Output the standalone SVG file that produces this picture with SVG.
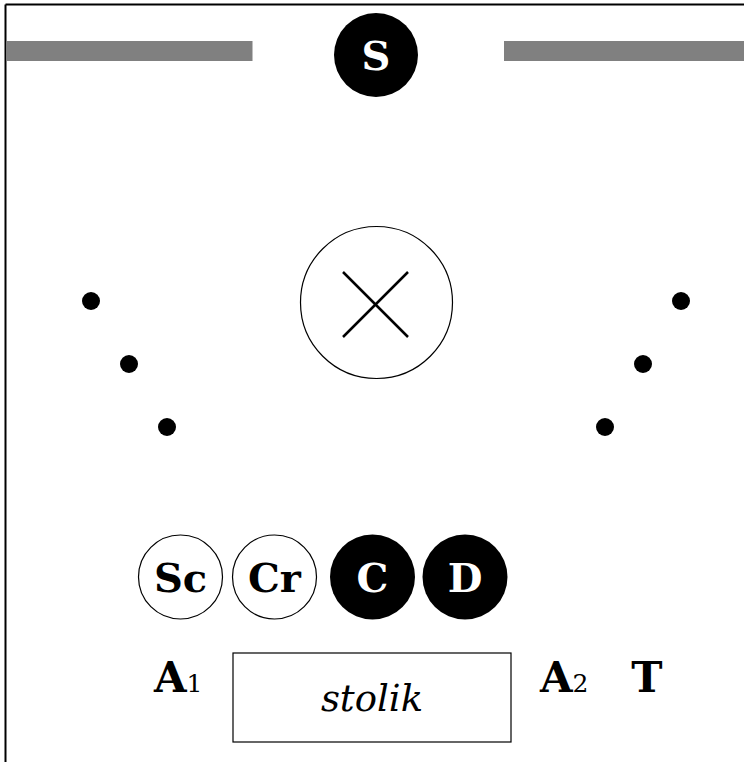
<svg xmlns="http://www.w3.org/2000/svg" width="744" height="762" viewBox="0 0 744 762">
<style>
.t{font-family:'DejaVu Serif',serif;font-weight:bold;text-anchor:middle}
.w{fill:#fff}
.k{fill:#000}
.open{fill:#fff;stroke:#000;stroke-width:1.2}
.blk{fill:#000}
.bar{fill:#808080}
.sub{font-weight:normal}
</style>
<rect width="744" height="762" fill="#fff"/>
<g id="frame">
<line x1="5.5" y1="4.5" x2="744" y2="4.5" stroke="#000" stroke-width="2"/>
<line x1="5.5" y1="4.5" x2="5.5" y2="762" stroke="#000" stroke-width="2"/>
</g>
<g id="walls">
<rect class="bar" x="6.5" y="41" width="246" height="20"/>
<rect class="bar" x="504" y="41" width="240" height="20"/>
</g>
<g id="node-S">
<circle class="blk" cx="376" cy="55" r="42"/>
<text class="t w" x="376" y="70" font-size="40">S</text>
</g>
<g id="node-X">
<circle class="open" cx="376.5" cy="302.5" r="76"/>
<line x1="343" y1="272" x2="408" y2="337" stroke="#000" stroke-width="2.5"/>
<line x1="408" y1="272" x2="343" y2="337" stroke="#000" stroke-width="2.5"/>
</g>
<g id="dots-left">
<circle class="blk" cx="91" cy="301" r="9"/>
<circle class="blk" cx="129" cy="364" r="9"/>
<circle class="blk" cx="167" cy="427" r="9"/>
</g>
<g id="dots-right">
<circle class="blk" cx="681" cy="301" r="9"/>
<circle class="blk" cx="643" cy="364" r="9"/>
<circle class="blk" cx="605" cy="427" r="9"/>
</g>
<g id="node-Sc">
<circle class="open" cx="180.5" cy="577" r="42"/>
<text class="t k" x="180.5" y="592" font-size="40">Sc</text>
</g>
<g id="node-Cr">
<circle class="open" cx="274.5" cy="577" r="42"/>
<text class="t k" x="274.5" y="592" font-size="40">Cr</text>
</g>
<g id="node-C">
<circle class="blk" cx="372.5" cy="577" r="42.5"/>
<text class="t w" x="372.5" y="592" font-size="40">C</text>
</g>
<g id="node-D">
<circle class="blk" cx="465" cy="577" r="42.5"/>
<text class="t w" x="465" y="592" font-size="40">D</text>
</g>
<g id="stolik">
<rect x="233" y="653" width="278" height="89" fill="#fff" stroke="#000" stroke-width="1.2"/>
<text x="372" y="711" font-family="'DejaVu Serif', serif" font-style="italic" font-size="37" text-anchor="middle">stolik</text>
</g>
<g id="label-A1">
<text class="t k" x="154" y="692" font-size="42" style="text-anchor:start">A<tspan class="sub" font-size="25">1</tspan></text>
</g>
<g id="label-A2">
<text class="t k" x="540" y="692" font-size="42" style="text-anchor:start">A<tspan class="sub" font-size="25">2</tspan></text>
</g>
<g id="label-T">
<text class="t k" x="647" y="692" font-size="42">T</text>
</g>
<g id="connectors"/>
</svg>
